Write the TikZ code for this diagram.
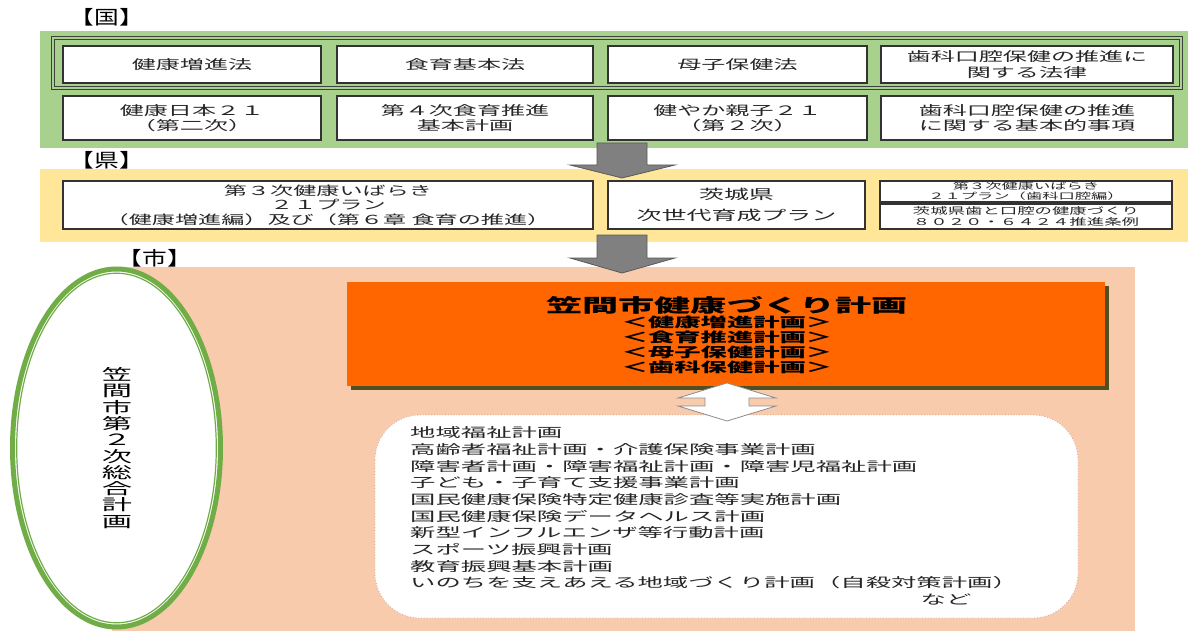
\documentclass[tikz,border=0pt]{standalone}
\usepackage{fontspec}
\newfontfamily\jpa[FakeStretch=1.85]{Noto Sans CJK JP}
\newfontfamily\jpb[FakeStretch=1.95]{Noto Sans CJK JP}
\newfontfamily\jpc[FakeStretch=1.3]{Noto Sans CJK JP}
\newcommand\fsz[2]{\fontsize{#1}{#2}\selectfont}
\definecolor{gband}{HTML}{A9D18E}
\definecolor{yband}{HTML}{FFE699}
\definecolor{sband}{HTML}{F8CBAD}
\definecolor{egreen}{HTML}{70AD47}
\definecolor{orng}{HTML}{FF6600}
\definecolor{shad}{HTML}{4F4F22}
\definecolor{arrgray}{HTML}{808080}
\definecolor{arredge}{HTML}{595959}
\definecolor{dotpink}{HTML}{D9A3A3}
\tikzset{
  box/.style={draw=black!80, line width=1.1pt, fill=white, inner sep=0pt, align=center, text=black!85},
  lbl/.style={inner sep=0pt, font={\jpc\fsz{19}{21}}},
  blockarrow/.style={fill=arrgray, draw=arredge, line width=0.8pt},
  whitearrow/.style={fill=white, draw=black!45, line width=0.8pt},
}
\begin{document}
\begin{tikzpicture}[x=1pt,y=-1pt]
\useasboundingbox (0,0) rectangle (1188,631);
% bands
\fill[gband] (40,31) rectangle (1188,148);
\fill[yband] (40,169) rectangle (1188,242);
\fill[sband] (112,267) rectangle (1135,631);
% labels
\node[lbl] (kuni) at (107,17) {【国】};
\node[lbl] (ken) at (107,160) {【県】};
\node[lbl] (shi) at (155,258) {【市】};
% double frame round the laws
\draw[draw=black!75, line width=0.9pt, double=gband, double distance=1.8pt] (53,38) rectangle (1181,88);
% row 1
\node[box, minimum width=258pt, minimum height=37pt, font={\jpa\fsz{13}{15}}] (l1) at (192,64.5) {健康増進法};
\node[box, minimum width=256pt, minimum height=37pt, font={\jpa\fsz{13}{15}}] (l2) at (465,64.5) {食育基本法};
\node[box, minimum width=259pt, minimum height=37pt, font={\jpa\fsz{13}{15}}] (l3) at (737.5,64.5) {母子保健法};
\node[box, minimum width=292pt, minimum height=37pt, font={\jpa\fsz{13}{16}}] (l4) at (1027,64.5) {歯科口腔保健の推進に\\関する法律};
% row 2
\node[box, minimum width=258pt, minimum height=44pt, font={\jpa\fsz{13}{15}}] (p1) at (192,118) {健康日本２１\\（第二次）};
\node[box, minimum width=256pt, minimum height=44pt, font={\jpa\fsz{13}{15}}] (p2) at (465,118) {第４次食育推進\\基本計画};
\node[box, minimum width=259pt, minimum height=44pt, font={\jpa\fsz{13}{15}}] (p3) at (737.5,118) {健やか親子２１\\（第２次）};
\node[box, minimum width=292pt, minimum height=44pt, font={\jpa\fsz{13}{15}}] (p4) at (1027,118) {歯科口腔保健の推進\\に関する基本的事項};
% arrow 1
\draw[blockarrow] (597,143) -- (647,143) -- (647,165) -- (675,165) -- (622,178) -- (570,165) -- (597,165) -- cycle;
% prefecture
\node[box, minimum width=530pt, minimum height=48pt, font={\jpa\fsz{12.5}{14.5}}] (ka) at (328,205) {第３次健康いばらき\\２１プラン\\（健康増進編）及び（第６章 食育の推進）};
\node[box, minimum width=257pt, minimum height=48pt, font={\jpa\fsz{13.5}{21}}] (kb) at (736.5,205) {茨城県\\次世代育成プラン};
\node[box, minimum width=292pt, minimum height=21pt, font={\jpa\fsz{8.8}{10}}] (kc1) at (1026,191.5) {第３次健康いばらき\\２１プラン（歯科口腔編）};
\node[box, minimum width=292pt, minimum height=25pt, font={\jpa\fsz{9.4}{11.5}}] (kc2) at (1026,216.5) {茨城県歯と口腔の健康づくり\\８０２０・６４２４推進条例};
% arrow 2
\draw[blockarrow] (597,235) -- (647,235) -- (647,258) -- (675,258) -- (622,273) -- (570,258) -- (597,258) -- cycle;
% ellipse
\fill[white] (116.5,448) ellipse [x radius=104, y radius=179];
\draw[egreen, line width=5pt] (116.5,448) ellipse [x radius=104, y radius=179];
\draw[egreen, line width=1.2pt] (116.5,448) ellipse [x radius=99.8, y radius=174.8];
\node[inner sep=0pt, align=center, font={\jpb\fsz{15.5}{16.3}}] (sogo) at (117,448) {笠\\間\\市\\第\\２\\次\\総\\合\\計\\画};
% orange plan box
\fill[shad] (351,286) rectangle (1109,390);
\node[fill=orng, minimum width=758pt, minimum height=104pt, inner sep=0pt] (plan) at (726,334) {};
\node[inner sep=0pt, font={\jpb\bfseries\fsz{18.5}{20}}] (plant) at (727,305) {笠間市健康づくり計画};
\node[inner sep=0pt, align=center, font={\jpb\bfseries\fsz{13.5}{15}}] (plans) at (727,344.5) {＜健康増進計画＞\\＜食育推進計画＞\\＜母子保健計画＞\\＜歯科保健計画＞};
% other plans
\draw[draw=dotpink, dotted, line width=0.8pt, fill=white, rounded corners=45pt] (375,415) rectangle (1078,618);
\node[inner sep=0pt, anchor=west, align=left, font={\jpb\fsz{13}{16.67}}, text=black!85] (others) at (410,508) {地域福祉計画\\高齢者福祉計画・介護保険事業計画\\障害者計画・障害福祉計画・障害児福祉計画\\子ども・子育て支援事業計画\\国民健康保険特定健康診査等実施計画\\国民健康保険データヘルス計画\\新型インフルエンザ等行動計画\\スポーツ振興計画\\教育振興基本計画\\いのちを支えあえる地域づくり計画（自殺対策計画）};
\node[inner sep=0pt, font={\jpb\fsz{13}{16.67}}, text=black!85] (nado) at (946,600) {など};
% double arrow
\draw[whitearrow] (727,383) -- (776,398) -- (749,398) -- (749,406) -- (776,406) -- (727,421) -- (678,406) -- (705,406) -- (705,398) -- (678,398) -- cycle;
\end{tikzpicture}
\end{document}
